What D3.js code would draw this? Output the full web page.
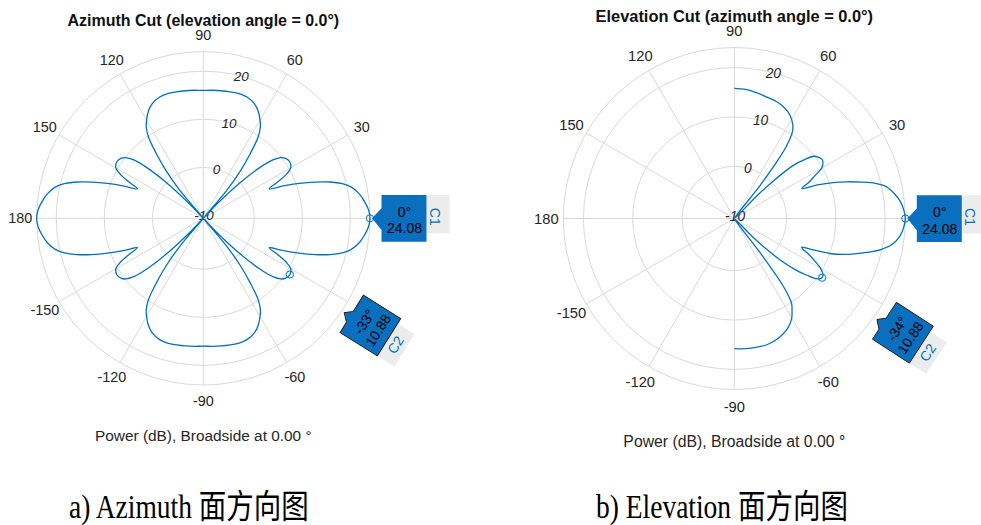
<!DOCTYPE html>
<html>
<head>
<meta charset="utf-8">
<script src="https://cdn.jsdelivr.net/npm/d3@7"></script>
<style>
  html, body { margin: 0; padding: 0; background: #ffffff; }
  svg { display: block; font-family: "Liberation Sans", Arial, Helvetica, sans-serif; }
</style>
</head>
<body>
<svg id="fig" width="981" height="525"></svg>
<script>
// ---- axis definitions -------------------------------------------------
const angleTicks = [0, 30, 60, 90, 120, 150, 180, -150, -120, -90, -60, -30];
// angles whose labels sit underneath the data cursor boxes
const coveredAngleLabels = [0, -30];
const magTicks = [-10, 0, 10, 20];
const magLimits = [-10.6, 24.08];

// ---- azimuth cut (elevation = 0), full circle, degrees CCW from broadside
const azAngles = [
  0, 3, 6, 9, 12, 14, 16, 18, 20, 22, 24, 26, 28, 30, 33, 36, 38, 40, 42, 44, 46, 48, 50, 52, 54, 56, 58, 60, 63, 66, 70, 74, 78, 82, 86, 90,
  94, 98, 102, 106, 110, 114, 117, 120, 122, 124, 126, 128, 130, 132, 134, 136, 138, 140, 142, 144, 147, 150, 152, 154, 156, 158, 160, 162, 164, 166, 168, 171, 174, 177, 180,
  183, 186, 189, 192, 194, 196, 198, 200, 202, 204, 206, 208, 210, 213, 216, 218, 220, 222, 224, 226, 228, 230, 232, 234, 236, 238, 240, 243, 246, 250, 254, 258, 262, 266, 270,
  274, 278, 282, 286, 290, 294, 297, 300, 302, 304, 306, 308, 310, 312, 314, 316, 318, 320, 322, 324, 327, 330, 332, 334, 336, 338, 340, 342, 344, 346, 348, 351, 354, 357
];
const azPower = [
  24.08, 23.8, 23.1, 22.2, 20.8, 19.2, 16.8, 13.8, 10.6, 7.4, 4.4, 6.6, 9.0, 10.4, 10.88, 10.6, 9.9, 8.3, 5.0, 0.2, -6, -11, -3, 2, 6, 9.8, 11.8, 13, 14.5, 15.5, 16.2, 16.4, 16.3, 16.2, 16.1, 16.0,
  16.1, 16.2, 16.3, 16.4, 16.2, 15.5, 14.5, 13, 11.8, 9.8, 6, 2, -3, -11, -6, 0.2, 5.0, 8.3, 9.9, 10.6, 10.88, 10.4, 9.0, 6.6, 4.4, 7.4, 10.6, 13.8, 16.8, 19.2, 20.8, 22.2, 23.1, 23.8, 24.08,
  23.8, 23.1, 22.2, 20.8, 19.2, 16.8, 13.8, 10.6, 7.4, 4.4, 6.6, 9.0, 10.4, 10.88, 10.6, 9.9, 8.3, 5.0, 0.2, -6, -11, -3, 2, 6, 9.8, 11.8, 13, 14.5, 15.5, 16.2, 16.4, 16.3, 16.2, 16.1, 16.0,
  16.1, 16.2, 16.3, 16.4, 16.2, 15.5, 14.5, 13, 11.8, 9.8, 6, 2, -3, -11, -6, 0.2, 5.0, 8.3, 9.9, 10.6, 10.88, 10.4, 9.0, 6.6, 4.4, 7.4, 10.6, 13.8, 16.8, 19.2, 20.8, 22.2, 23.1, 23.8
];

// ---- elevation cut (azimuth = 0), -90 .. 90 degrees
const elAngles = [
  -90, -85, -80, -75, -70, -65, -62, -60, -58, -56, -55, -54, -53, -49, -45, -44, -42, -40, -38, -36,
  -34, -32, -30, -28, -26, -24, -23, -22, -20, -18, -16, -14, -12, -9, -6, -3, 0, 3, 6, 9,
  12, 14, 16, 18, 20, 22, 24, 26, 28, 30, 32, 34, 36, 38, 40, 42, 44, 45, 48, 52,
  53, 54, 56, 58, 62, 66, 70, 75, 80, 85, 90
];
const elPower = [
  15.8, 15.9, 15.9, 15.8, 15.3, 14.4, 13.5, 12.7, 11.5, 10.2, 8.6, 6, -1, -11, -5, -2.5, 2.3, 5.6, 8.1, 10.2,
  10.88, 10.6, 9.6, 8.0, 6.4, 4.6, 4.2, 6.0, 10.3, 13.0, 15.2, 17.6, 19.8, 22.0, 23.2, 23.8, 24.08, 23.8, 23.2, 22.2,
  20.8, 18.9, 16.2, 13.5, 10.7, 7.6, 4.4, 6.3, 7.9, 9.9, 10.6, 10.88, 10.5, 9.9, 8.0, 5.5, 0, -4, -11, -2,
  3, 7, 10.4, 11.8, 13.3, 14.1, 14.6, 14.9, 15.3, 15.7, 15.8
];

// ---- data cursors
const tipNames = ["C1", "C2"];
const azTipAngles = [0, -33];
const azTipValues = [24.08, 10.88];
const elTipAngles = [0, -34];
const elTipValues = [24.08, 10.88];

// ---- styling
const lineBlue = "#0072BD";
const tipBlue = "#0a6fbf";
const gridColor = "#d9d9d9";
const labelColor = "#262626";
const deg = Math.PI / 180;

const svg = d3.select("#fig");

function drawChart(cfg) {
  const k = cfg.k;
  const g = svg.append("g").attr("transform", `translate(${cfg.cx},${cfg.cy})`);
  const r = d3.scaleLinear().domain(magLimits).range([0, cfg.R]).clamp(true);
  const px = (a, rad) => rad * Math.cos(a * deg);
  const py = (a, rad) => -rad * Math.sin(a * deg);

  // grid: spokes and rings
  const grid = g.append("g").attr("fill", "none").attr("stroke", gridColor).attr("stroke-width", 1);
  grid.selectAll("line").data(angleTicks).join("line")
    .attr("x1", 0).attr("y1", 0)
    .attr("x2", a => px(a, cfg.R)).attr("y2", a => py(a, cfg.R));
  grid.selectAll("circle.ring").data(magTicks.filter(v => r(v) > 10)).join("circle")
    .attr("class", "ring").attr("r", v => r(v));
  grid.append("circle").attr("r", cfg.R);

  // angle labels (those hidden by the cursor boxes are skipped)
  g.append("g").selectAll("text")
    .data(angleTicks.filter(a => !coveredAngleLabels.includes(a))).join("text")
    .attr("x", a => px(a, cfg.labelR))
    .attr("y", a => py(a, cfg.labelR))
    .attr("dy", "0.36em")
    .attr("text-anchor", "middle")
    .attr("font-size", 14.4 * k)
    .attr("fill", labelColor)
    .text(a => a);

  // magnitude labels along the 75 degree direction
  g.append("g").selectAll("text").data(magTicks).join("text")
    .attr("x", v => px(75, r(v)))
    .attr("y", v => py(75, r(v)))
    .attr("dy", "0.36em")
    .attr("text-anchor", "middle")
    .attr("font-size", 13.5 * k)
    .attr("font-style", "italic")
    .attr("fill", labelColor)
    .text(v => v);

  // pattern curve
  const pts = cfg.angles.map((a, i) => ({ a: a, p: cfg.power[i] }));
  const line = d3.lineRadial()
    .angle(d => (90 - d.a) * deg)
    .radius(d => r(d.p))
    .curve(cfg.closed ? d3.curveCatmullRomClosed.alpha(0.5) : d3.curveCatmullRom.alpha(0.5));
  g.append("path").datum(pts)
    .attr("d", line)
    .attr("fill", "none")
    .attr("stroke", lineBlue)
    .attr("stroke-width", 1.3);

  // title and axis caption
  g.append("text")
    .attr("x", 0).attr("y", cfg.titleY - cfg.cy)
    .attr("text-anchor", "middle")
    .attr("font-size", 16 * k)
    .attr("font-weight", "bold")
    .attr("fill", "#111")
    .text(cfg.title);
  g.append("text")
    .attr("x", 0).attr("y", cfg.captionY - cfg.cy)
    .attr("text-anchor", "middle")
    .attr("font-size", 15.4 * k)
    .attr("fill", labelColor)
    .text("Power (dB), Broadside at 0.00 °");

  // data cursor markers
  const tips = cfg.tipAngles.map((a, i) => ({
    name: tipNames[i], a: a, v: cfg.tipValues[i],
    x: px(a, r(cfg.tipValues[i])), y: py(a, r(cfg.tipValues[i]))
  }));
  g.append("g").selectAll("circle").data(tips).join("circle")
    .attr("cx", d => d.x).attr("cy", d => d.y).attr("r", 3.6)
    .attr("fill", "none").attr("stroke", lineBlue).attr("stroke-width", 1);

  // C1: box to the right of the marker with a left pointer
  const t1 = tips[0];
  const c1 = g.append("g").attr("transform", `translate(${t1.x},${t1.y})`);
  c1.append("rect").attr("x", 57).attr("y", -23.3).attr("width", 22.6).attr("height", 38.3).attr("fill", "#ececec");
  c1.append("path").attr("d", "M2,0 L11.5,-10 L11.5,-23.3 L56.5,-23.3 L56.5,23.4 L11.5,23.4 L11.5,11.7 Z").attr("fill", tipBlue);
  c1.append("text").attr("x", 34.5).attr("y", -1.6).attr("text-anchor", "middle").attr("font-size", 14).attr("fill", "#000").text(`${t1.a}°`);
  c1.append("text").attr("x", 34.5).attr("y", 15).attr("text-anchor", "middle").attr("font-size", 14).attr("fill", "#000").text(t1.v.toFixed(2));
  c1.append("text").attr("transform", "translate(59.5,-1.5) rotate(90)").attr("text-anchor", "middle")
    .attr("font-size", 14).attr("fill", lineBlue).text(t1.name);

  // C2: rotated box below-right of the marker
  const t2 = tips[1];
  const c2 = g.append("g").attr("transform", `translate(${t2.x + cfg.c2dx},${t2.y + cfg.c2dy}) rotate(${cfg.c2rot})`);
  c2.append("rect").attr("x", -22).attr("y", 21).attr("width", 38).attr("height", 21).attr("fill", "#ececec");
  c2.append("path").attr("d", "M-22,-22 L-10,-22 L-3,-29 L3,-22 L22,-22 L22,22 L-22,22 Z")
    .attr("fill", tipBlue).attr("stroke", "#1e1e1e").attr("stroke-width", 0.9);
  c2.append("text").attr("x", 0).attr("y", -2).attr("text-anchor", "middle").attr("font-size", 14).attr("fill", "#000").text(`${t2.a}°`);
  c2.append("text").attr("x", 0).attr("y", 14).attr("text-anchor", "middle").attr("font-size", 14).attr("fill", "#000").text(t2.v.toFixed(2));
  c2.append("text").attr("x", -3).attr("y", 36.5).attr("text-anchor", "middle").attr("font-size", 14).attr("fill", lineBlue).text(t2.name);
}

drawChart({
  cx: 203.3, cy: 218.3, R: 166.7, labelR: 183, k: 1,
  title: "Azimuth Cut (elevation angle = 0.0°)", titleY: 26, captionY: 441.5,
  angles: azAngles, power: azPower, closed: true,
  tipAngles: azTipAngles, tipValues: azTipValues,
  c2dx: 80.5, c2dy: 51, c2rot: -58
});

drawChart({
  cx: 734.3, cy: 218.5, R: 171, labelR: 188, k: 1.025,
  title: "Elevation Cut (azimuth angle = 0.0°)", titleY: 21.5, captionY: 447,
  angles: elAngles, power: elPower, closed: false,
  tipAngles: elTipAngles, tipValues: elTipValues,
  c2dx: 80.8, c2dy: 55, c2rot: -57
});

// sub-figure captions
const subCaptions = ["a) Azimuth 面方向图", "b) Elevation 面方向图"];
const subCaptionX = [69, 596];
svg.selectAll("text.sub").data(subCaptions).join("text")
  .attr("class", "sub")
  .attr("transform", (d, i) => `translate(${subCaptionX[i]},518) scale(1,1.2)`)
  .attr("font-family", "'Liberation Serif', 'Times New Roman', 'Noto Sans CJK SC', serif")
  .attr("font-size", 27.5)
  .attr("fill", "#000")
  .text(d => d);
</script>
</body>
</html>
